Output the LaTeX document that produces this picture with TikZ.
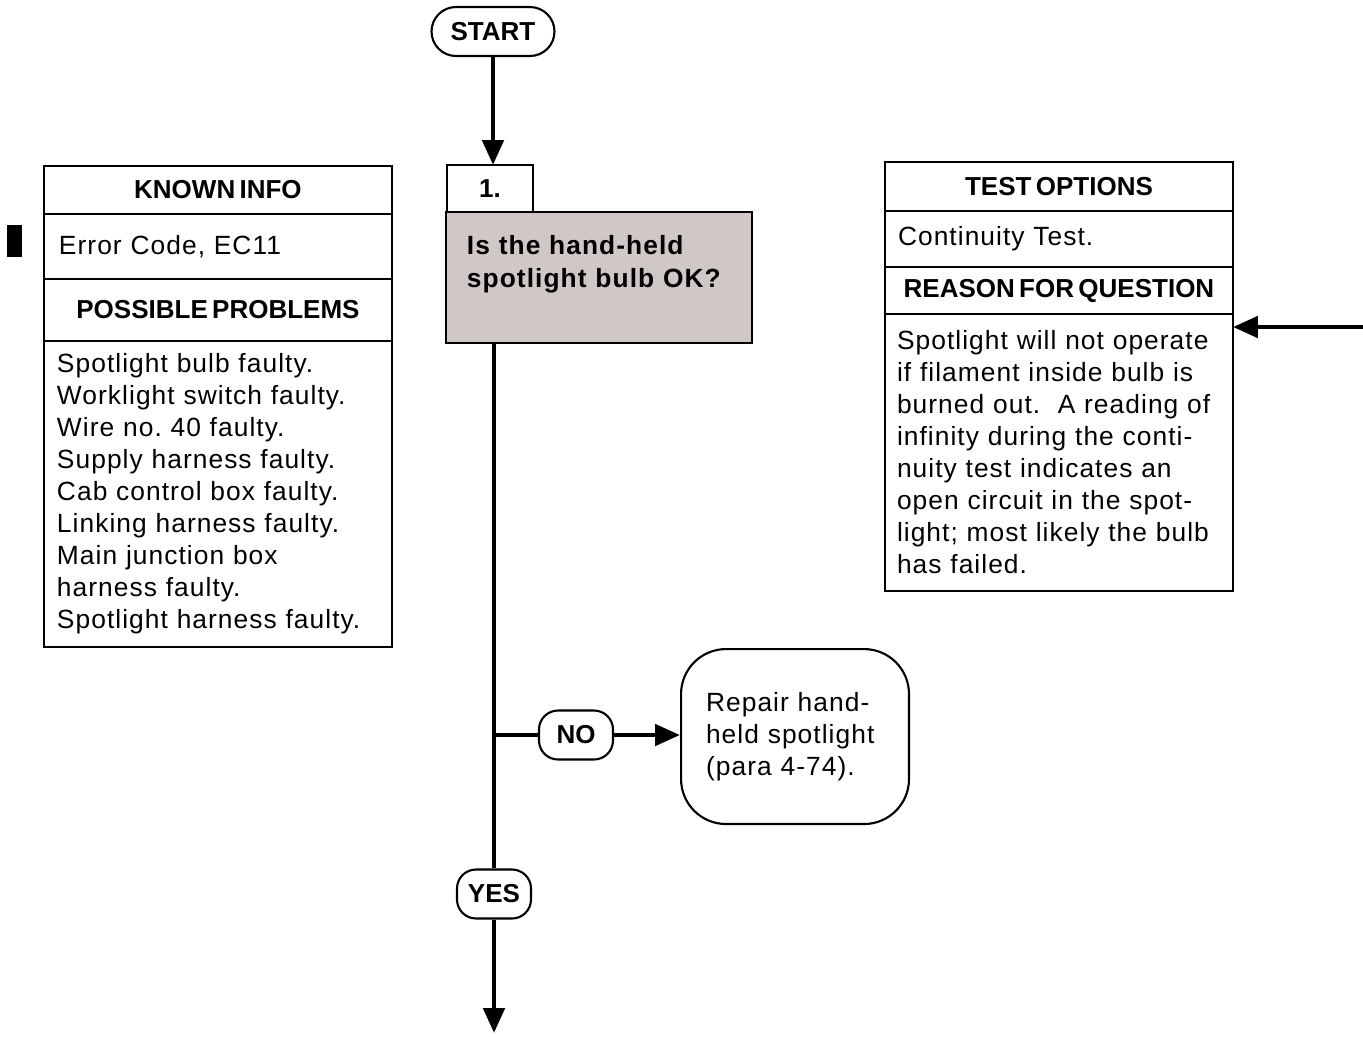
\documentclass[tikz,border=0pt]{standalone}
\usepackage{fontspec}
\setmainfont{Liberation Sans}
\newfontfamily\trackfont[LetterSpace=4]{Liberation Sans}
\newfontfamily\headfamily[WordSpace=0.6]{Liberation Sans}
\usepackage{tikz}
\usetikzlibrary{arrows.meta, positioning}

\definecolor{qgray}{RGB}{208,200,199}

\begin{document}
\begin{tikzpicture}[
    x=0.02cm, y=-0.02cm,
    font=\trackfont\fontsize{15}{18.2}\selectfont,
    >={Triangle[length=0.5cm,width=0.42cm]},
    head/.style={draw, line width=1.2pt, outer sep=0pt, inner sep=0pt,
                 minimum width=6.96cm,
                 font=\headfamily\bfseries\fontsize{14.8}{16}\selectfont},
    body/.style={draw, line width=1.2pt, outer sep=0pt, inner xsep=0.3cm,
                 inner ysep=0pt, text width=6.36cm, align=left},
    qbox/.style={draw, line width=1.2pt, fill=qgray, outer sep=0pt,
                 inner xsep=0.42cm, text width=5.28cm, align=left,
                 font=\trackfont\bfseries\fontsize{15}{18.7}\selectfont},
    pill/.style={draw, line width=1.2pt, rounded corners=0.38cm,
                 minimum width=1.48cm, minimum height=0.98cm, inner sep=0pt,
                 font=\headfamily\bfseries\fontsize{14.8}{16}\selectfont},
    endbox/.style={draw, line width=1.2pt, rounded corners=0.9cm,
                   minimum width=4.56cm, minimum height=3.5cm,
                   inner xsep=0.5cm, text width=3.56cm, align=left},
    flow/.style={line width=2.8pt},
  ]
  \useasboundingbox (0,0) rectangle (1363,1036);

  %% ---- known info / possible problems --------------------------------
  \node[head, minimum height=0.96cm, anchor=north west] (kiHead) at (44,166) {KNOWN INFO};
  \node[body, minimum height=1.30cm, below=0pt of kiHead] (kiBody) {Error Code, EC11};
  \node[head, minimum height=1.24cm, below=0pt of kiBody] (ppHead) {POSSIBLE PROBLEMS};
  \node[body, minimum height=6.12cm, below=0pt of ppHead, inner xsep=0.26cm,
        text width=6.44cm] (ppBody)
  {Spotlight bulb faulty.\\ Worklight switch faulty.\\ Wire no.\ 40 faulty.\\
   Supply harness faulty.\\ Cab control box faulty.\\ Linking harness faulty.\\
   Main junction box\\ harness faulty.\\ Spotlight harness faulty.};
  \node[fill, minimum width=0.3cm, minimum height=0.64cm, inner sep=0pt,
        anchor=north west] (bar) at (7,225) {};

  %% ---- test options / reason for question ----------------------------
  \node[head, minimum height=0.98cm, anchor=north west] (toHead) at (885,162) {TEST OPTIONS};
  \node[body, minimum height=1.12cm, below=0pt of toHead, inner xsep=0.26cm,
        text width=6.44cm] (toBody) {Continuity Test.};
  \node[head, minimum height=0.94cm, below=0pt of toBody] (rqHead) {REASON FOR QUESTION};
  \node[body, minimum height=5.54cm, below=0pt of rqHead, inner xsep=0.24cm,
        text width=6.48cm] (rqBody)
  {Spotlight will not operate\\ if filament inside bulb is\\ burned out.\ \ A reading of\\
   infinity during the conti-\\ nuity test indicates an\\ open circuit in the spot-\\
   light; most likely the bulb\\ has failed.};

  \coordinate (rqIn) at (1363,327);
  \draw[flow,->] (rqIn) -- (rqIn -| rqBody.east);

  %% ---- main flow -----------------------------------------------------
  \node[pill, minimum width=2.46cm, rounded corners=0.49cm] (start) at (493,31.5) {START};
  \node[head, minimum width=1.72cm, minimum height=0.94cm, anchor=north west] (q1num)
    at (447,165) {1.};
  \node[qbox, minimum width=6.12cm, minimum height=2.62cm, anchor=north west] (q1)
    at (446,212) {Is the hand-held\\ spotlight bulb OK?\\ \mbox{}};

  \draw[flow,->] (start.south) -- (start.south |- q1num.north);

  \node[pill] (yes) at (494,894) {YES};
  \node[pill] (no)  at (576,735) {NO};
  \node[endbox, anchor=north west] (repair) at (680,648)
  {Repair hand-\\ held spotlight\\ (para 4-74).};

  \coordinate (branch) at (yes.north |- no.west);
  \coordinate (yesEnd) at (494,1033);

  \draw[flow] (yes.north |- q1.south) -- (yes.north);
  \draw[flow] (branch) -- (no.west);
  \draw[flow,->] (no.east) -- (no.east -| repair.west);
  \draw[flow,->] (yes.south) -- (yesEnd);

\end{tikzpicture}
\end{document}
